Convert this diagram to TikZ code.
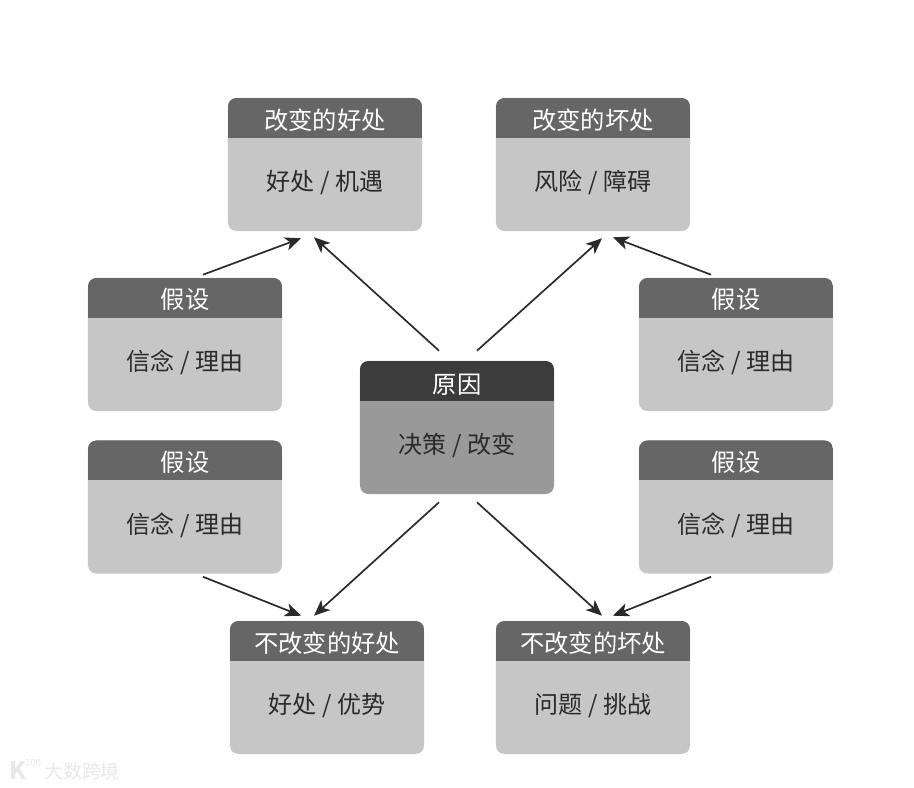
\documentclass[tikz,border=0pt]{standalone}
\usepackage{fontspec}
\setmainfont{Noto Sans CJK SC}
\usepackage{tikz}
\usetikzlibrary{calc, arrows.meta}
\definecolor{headgray}{HTML}{666666}
\definecolor{bodygray}{HTML}{C6C6C6}
\definecolor{headdark}{HTML}{3C3C3C}
\definecolor{bodydark}{HTML}{999999}
\definecolor{inkgray}{HTML}{2A2A2A}
\tikzset{
	cardnode/.style={rounded corners=6pt, minimum width=4.85cm, minimum height=3.325cm, inner sep=0pt}
}
\tikzset{
	headtext/.style={font=\fontsize{17.3}{20}\selectfont, text=white, inner sep=0pt}
}
\tikzset{
	bodytext/.style={font=\fontsize{17.1}{20}\selectfont, text=inkgray, inner sep=0pt}
}
\tikzset{
	linkarrow/.style={draw=inkgray, line width=1.2pt, -{Stealth[length=4mm, width=3.4mm, inset=1.1mm]}}
}
\tikzset{
	marktext/.style={text=black!9, inner sep=0pt}
}
\NewDocumentCommand{\cardbox}{O{22}mmmmmm}{%
	\node[cardnode, fill=#5, path picture={
		\fill[#4, sharp corners] (path picture bounding box.north west) rectangle ([yshift=-1cm]path picture bounding box.north east);
	}] (#2) at (#3) {};
	\node[headtext] (#2-head) at ($(#2.north)+(0,#1)$) {#6};
	\node[bodytext] (#2-body) at ($(#2.north)+(0,85)$) {#7};
}

\begin{document}
\begin{tikzpicture}[x=0.025cm, y=-0.025cm]
\useasboundingbox (0,0) rectangle (914,788);

\cardbox{gain}{325,164.5}{headgray}{bodygray}{改变的好处}{好处 / 机遇}
\cardbox{loss}{593,164.5}{headgray}{bodygray}{改变的坏处}{风险 / 障碍}
\cardbox[24]{cause}{457,427.5}{headdark}{bodydark}{原因}{决策 / 改变}
\cardbox{leftA}{185,344.5}{headgray}{bodygray}{假设}{信念 / 理由}
\cardbox{leftB}{185,507}{headgray}{bodygray}{假设}{信念 / 理由}
\cardbox{rightA}{736,344.5}{headgray}{bodygray}{假设}{信念 / 理由}
\cardbox{rightB}{736,507}{headgray}{bodygray}{假设}{信念 / 理由}
\cardbox{staygain}{327,687.5}{headgray}{bodygray}{不改变的好处}{好处 / 优势}
\cardbox{stayloss}{593,687.5}{headgray}{bodygray}{不改变的坏处}{问题 / 挑战}

\draw[linkarrow] ($(leftA.north)+(18,-3)$) -- ($(gain.south)+(-24,7)$);
\draw[linkarrow] ($(cause.north)+(-18,-10)$) -- ($(gain.south)+(-11,6)$);
\draw[linkarrow] ($(cause.north)+(20,-10)$) -- ($(loss.south)+(9,7)$);
\draw[linkarrow] ($(rightA.north)+(-25,-3)$) -- ($(loss.south)+(20,6)$);

\draw[linkarrow] ($(cause.south)+(-18,8)$) -- ($(staygain.north)+(-13,-5)$);
\draw[linkarrow] ($(leftB.south)+(18,3)$) -- ($(staygain.north)+(-26,-5)$);
\draw[linkarrow] ($(cause.south)+(20,8)$) -- ($(stayloss.north)+(9,-5)$);
\draw[linkarrow] ($(rightB.south)+(-25,3)$) -- ($(stayloss.north)+(20,-5)$);

\node[marktext, font=\fontsize{17}{20}\selectfont\bfseries] (markK) at (18,771) {K};
\node[marktext, font=\fontsize{7}{8}\selectfont] (markN) at (33,763) {100};
\node[marktext, font=\fontsize{13.5}{16}\selectfont] (markT) at (82,771) {大数跨境};
\end{tikzpicture}
\end{document}
